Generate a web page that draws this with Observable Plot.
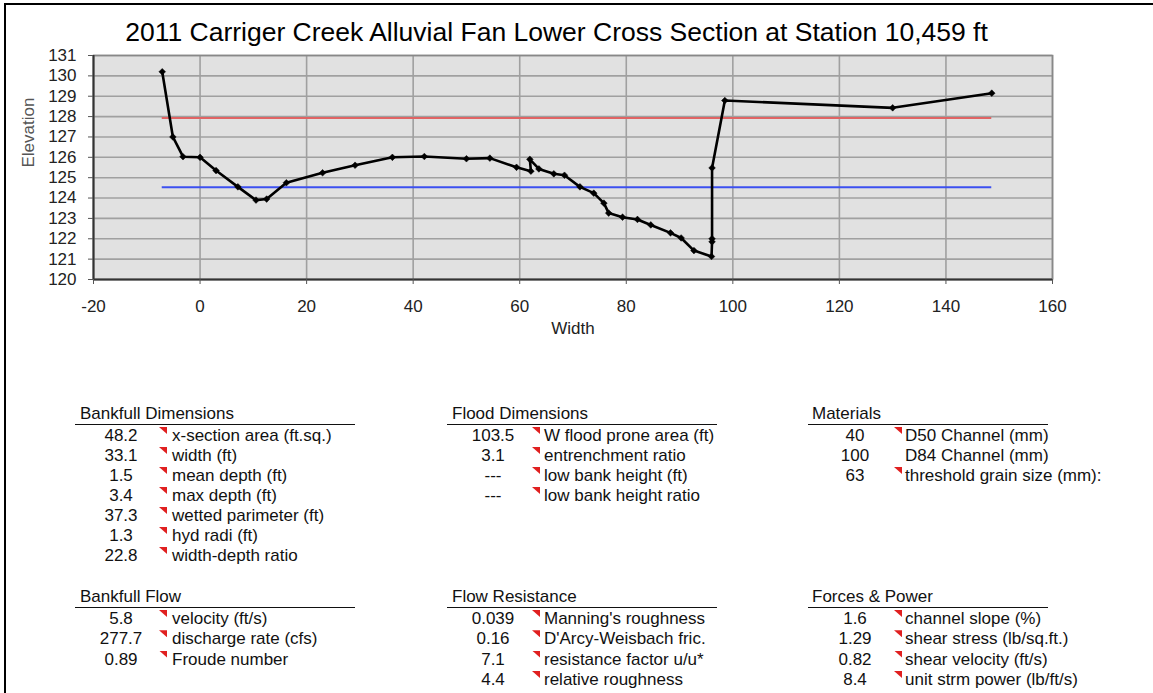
<!DOCTYPE html>
<html>
<head>
<meta charset="utf-8">
<script src="https://cdn.jsdelivr.net/npm/d3@7"></script>
<script src="https://cdn.jsdelivr.net/npm/@observablehq/plot@0.6"></script>
<style>
  html, body { margin: 0; padding: 0; background: #fff; }
  body { width: 1153px; height: 693px; overflow: hidden; font-family: "Liberation Sans", Arial, sans-serif; color: #111; }
  #wrap { position: relative; width: 1153px; height: 693px; }
  #title { position: absolute; left: 0; top: 14px; width: 1113px; text-align: center; font-size: 26.5px; line-height: 36px; color: #000; }
  #chart { position: absolute; left: 0; top: 46px; }
  .t { position: absolute; font-size: 17px; line-height: 20px; white-space: nowrap; color: #111; }
  .ul { position: absolute; height: 0; border-top: 1.6px solid #111; }
  .tri { position: absolute; width: 8px; height: 7px; background: #e02020; clip-path: polygon(0 0, 100% 0, 100% 100%); }
  #frameL { position: absolute; left: 4px; top: 3px; width: 2px; height: 690px; background: #000; }
  #frameT { position: absolute; left: 4px; top: 3px; width: 1149px; height: 2px; background: #000; }
</style>
</head>
<body>
<div id="wrap">
  <div id="frameL"></div>
  <div id="frameT"></div>
  <div id="title"></div>
  <div id="chart"></div>
</div>
<script>
// ---- data ----
const titleText = "2011 Carriger Creek Alluvial Fan Lower Cross Section at Station 10,459 ft";
const widths = [-7.1, -5.1, -3.2, 0.0, 3.0, 7.1, 10.5, 12.5, 16.2, 23.0, 29.1, 36.1, 42.1, 50.0, 54.4, 59.4, 62.1, 61.9, 63.6, 66.4, 68.4, 71.3, 73.9, 75.8, 76.7, 79.3, 82.1, 84.6, 88.3, 90.3, 92.7, 96.0, 96.1, 96.1, 96.1, 98.5, 130.0, 148.6];
const elevations = [130.2, 127.0, 126.03, 126.0, 125.35, 124.55, 123.9, 123.95, 124.75, 125.24, 125.61, 126.0, 126.04, 125.93, 125.96, 125.51, 125.32, 125.9, 125.43, 125.19, 125.12, 124.55, 124.24, 123.75, 123.26, 123.06, 122.95, 122.68, 122.29, 122.04, 121.42, 121.13, 121.85, 122.0, 125.48, 128.79, 128.43, 129.15];
const floodElevation = 127.93;
const bankfullElevation = 124.53;
const xTicks = [-20, 0, 20, 40, 60, 80, 100, 120, 140, 160];
const yTicks = [120, 121, 122, 123, 124, 125, 126, 127, 128, 129, 130, 131];
const xLabel = "Width";
const yLabel = "Elevation";

const bankfullDimTitle = "Bankfull Dimensions";
const bankfullDimValues = ["48.2", "33.1", "1.5", "3.4", "37.3", "1.3", "22.8"];
const bankfullDimLabels = ["x-section area (ft.sq.)", "width (ft)", "mean depth (ft)", "max depth (ft)", "wetted parimeter (ft)", "hyd radi (ft)", "width-depth ratio"];
const bankfullDimFlags = [true, true, true, true, true, true, true];

const floodDimTitle = "Flood Dimensions";
const floodDimValues = ["103.5", "3.1", "---", "---"];
const floodDimLabels = ["W flood prone area (ft)", "entrenchment ratio", "low bank height (ft)", "low bank height ratio"];
const floodDimFlags = [true, true, true, true];

const materialsTitle = "Materials";
const materialsValues = ["40", "100", "63"];
const materialsLabels = ["D50 Channel (mm)", "D84 Channel (mm)", "threshold grain size (mm):"];
const materialsFlags = [true, false, true];

const bankfullFlowTitle = "Bankfull Flow";
const bankfullFlowValues = ["5.8", "277.7", "0.89"];
const bankfullFlowLabels = ["velocity (ft/s)", "discharge rate (cfs)", "Froude number"];
const bankfullFlowFlags = [true, true, true];

const flowResTitle = "Flow Resistance";
const flowResValues = ["0.039", "0.16", "7.1", "4.4"];
const flowResLabels = ["Manning's roughness", "D'Arcy-Weisbach fric.", "resistance factor u/u*", "relative roughness"];
const flowResFlags = [true, true, true, true];

const forcesTitle = "Forces & Power";
const forcesValues = ["1.6", "1.29", "0.82", "8.4"];
const forcesLabels = ["channel slope (%)", "shear stress (lb/sq.ft.)", "shear velocity (ft/s)", "unit strm power (lb/ft/s)"];
const forcesFlags = [true, true, true, true];

// ---- chart ----
document.getElementById("title").textContent = titleText;

const profile = widths.map((w, i) => ({width: w, elevation: elevations[i]}));
const xStart = widths[0], xEnd = widths[widths.length - 1];
const levels = [
  {y: floodElevation, x1: xStart, x2: xEnd, c: "flood"},
  {y: bankfullElevation, x1: xStart, x2: xEnd, c: "bankfull"}
];

const chart = Plot.plot({
  width: 1153,
  height: 300,
  marginLeft: 93,
  marginRight: 101,
  marginTop: 9,
  marginBottom: 67,
  style: {fontFamily: "'Liberation Sans', Arial, sans-serif", fontSize: "17px", color: "#222", background: "transparent", overflow: "visible"},
  x: {domain: [-20, 160], label: null},
  y: {domain: [120, 131], label: null},
  marks: [
    Plot.frame({fill: "#e1e1e1", stroke: null}),
    Plot.gridY(yTicks, {stroke: "#a0a0a0", strokeOpacity: 1, strokeWidth: 1.6}),
    Plot.gridX(xTicks, {stroke: "#a0a0a0", strokeOpacity: 1, strokeWidth: 1.6}),
    Plot.frame({stroke: "#888", strokeWidth: 1.6}),
    Plot.ruleX([-20], {stroke: "#333", strokeWidth: 2}),
    Plot.ruleY([120], {stroke: "#333", strokeWidth: 2}),
    Plot.axisX(xTicks, {tickSize: 5, tickPadding: 15, stroke: "#555", fill: "#222", tickFormat: d => d}),
    Plot.axisY(yTicks, {tickSize: 5, tickPadding: 12, stroke: "#555", fill: "#222", tickFormat: d => d}),
    Plot.ruleY(levels, {y: "y", x1: "x1", x2: "x2", stroke: d => d.c === "flood" ? "#e06464" : "#3c50f0", strokeWidth: 2}),
    Plot.line(profile, {x: "width", y: "elevation", stroke: "#000", strokeWidth: 2.6}),
    Plot.dot(profile, {x: "width", y: "elevation", symbol: "diamond2", r: 3, fill: "#000", stroke: "#000", strokeWidth: 0.5}),
    Plot.text([xLabel], {frameAnchor: "bottom", dy: 54, fill: "#222", fontSize: 17}),
    Plot.text([yLabel], {frameAnchor: "left", dx: -65, rotate: -90, fill: "#555", fontSize: 17})
  ]
});
document.getElementById("chart").appendChild(chart);

// ---- tables ----
const wrap = document.getElementById("wrap");
function addText(txt, left, centerY, align) {
  const d = document.createElement("div");
  d.className = "t";
  d.textContent = txt;
  d.style.top = (centerY - 10) + "px";
  if (align === "center") {
    d.style.left = (left - 60) + "px";
    d.style.width = "120px";
    d.style.textAlign = "center";
  } else {
    d.style.left = left + "px";
  }
  wrap.appendChild(d);
}
function addBlock(title, values, labels, flags, col, row) {
  addText(title, col.header, row.header, "left");
  const ul = document.createElement("div");
  ul.className = "ul";
  ul.style.left = col.ul0 + "px";
  ul.style.width = (col.ul1 - col.ul0) + "px";
  ul.style.top = row.ul + "px";
  wrap.appendChild(ul);
  values.forEach((v, i) => {
    const cy = row.start + i * row.step;
    addText(v, col.value, cy, "center");
    addText(labels[i], col.label, cy, "left");
    if (flags[i]) {
      const t = document.createElement("div");
      t.className = "tri";
      t.style.left = col.tri + "px";
      t.style.top = (cy - 9) + "px";
      wrap.appendChild(t);
    }
  });
}
const cols = [
  {header: 80, ul0: 75, ul1: 355, value: 121, tri: 159, label: 172},
  {header: 452, ul0: 447, ul1: 717, value: 493, tri: 532, label: 544},
  {header: 812, ul0: 808, ul1: 1048, value: 855, tri: 894, label: 905}
];
const rowTop = {header: 414, ul: 424, start: 436, step: 20};
const rowBot = {header: 597, ul: 607, start: 619, step: 20.3};

addBlock(bankfullDimTitle, bankfullDimValues, bankfullDimLabels, bankfullDimFlags, cols[0], rowTop);
addBlock(floodDimTitle, floodDimValues, floodDimLabels, floodDimFlags, cols[1], rowTop);
addBlock(materialsTitle, materialsValues, materialsLabels, materialsFlags, cols[2], rowTop);
addBlock(bankfullFlowTitle, bankfullFlowValues, bankfullFlowLabels, bankfullFlowFlags, cols[0], rowBot);
addBlock(flowResTitle, flowResValues, flowResLabels, flowResFlags, cols[1], rowBot);
addBlock(forcesTitle, forcesValues, forcesLabels, forcesFlags, cols[2], rowBot);
</script>
</body>
</html>
